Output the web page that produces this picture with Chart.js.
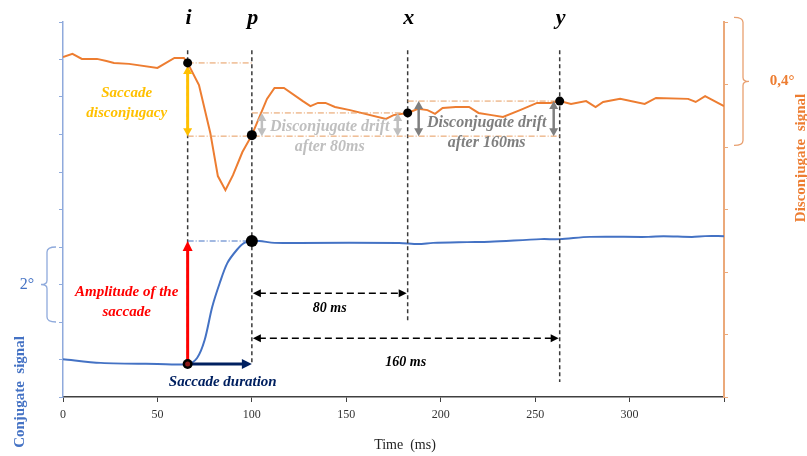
<!DOCTYPE html>
<html>
<head>
<meta charset="utf-8">
<script src="https://cdn.jsdelivr.net/npm/chart.js@4.4.1/dist/chart.umd.min.js"></script>
<style>
  html, body { margin: 0; padding: 0; background: #fff; }
  #wrap { width: 807px; height: 456px; }
</style>
</head>
<body>
<div id="wrap"><canvas id="graph" width="807" height="456"></canvas></div>
<script>
// disconjugate signal (right axis, degrees)
const orangeTime = [0, 5, 10, 18, 23, 27, 35, 50, 59, 64, 66, 72, 78, 82, 86, 90, 95, 100, 108, 112, 117, 127, 131, 135, 139, 144, 152, 171, 175, 182.5, 188, 193, 197, 201, 208, 215, 220, 227, 233, 242, 251, 258, 263, 269, 277, 282, 286, 295, 308, 314, 331, 335, 340, 350]
const orangeValues = [1.088, 1.098, 1.082, 1.082, 1.075, 1.069, 1.066, 1.053, 1.085, 1.085, 1.069, 0.998, 0.845, 0.707, 0.662, 0.710, 0.784, 0.838, 0.954, 0.989, 0.989, 0.947, 0.931, 0.941, 0.941, 0.928, 0.918, 0.890, 0.902, 0.909, 0.922, 0.918, 0.906, 0.925, 0.928, 0.928, 0.909, 0.902, 0.896, 0.918, 0.941, 0.941, 0.947, 0.938, 0.947, 0.928, 0.944, 0.954, 0.938, 0.957, 0.954, 0.944, 0.963, 0.931]

// conjugate signal (left axis, degrees)
const blueTime = [0, 20, 50, 66, 71, 75, 79, 83, 87, 92, 96, 100, 104, 112, 125, 178, 188, 196, 214, 226, 253, 263, 279, 310, 318, 333, 340, 350]
const blueValues = [1.01, 0.91, 0.88, 0.88, 1.04, 1.52, 2.40, 3.04, 3.57, 3.92, 4.11, 4.16, 4.16, 4.11, 4.11, 4.11, 4.08, 4.11, 4.13, 4.14, 4.21, 4.21, 4.27, 4.27, 4.29, 4.27, 4.29, 4.29]

// event markers i, p, x, y
const eventNames = ['i', 'p', 'x', 'y']
const eventTimes = [66, 100, 182.5, 263]
const eventDisconj = [1.069, 0.838, 0.909, 0.947]
const conjStart = 0.88
const conjPeak = 4.16

const xTicks = [0, 50, 100, 150, 200, 250, 300]

const serif = "'Liberation Serif', 'DejaVu Serif', serif"

function line(ctx, x1, y1, x2, y2, color, width, dash) {
    ctx.save()
    ctx.strokeStyle = color
    ctx.lineWidth = width
    ctx.setLineDash(dash || [])
    ctx.beginPath()
    ctx.moveTo(x1, y1)
    ctx.lineTo(x2, y2)
    ctx.stroke()
    ctx.restore()
}

function head(ctx, x, y, angle, color, len, half) {
    ctx.save()
    ctx.fillStyle = color
    ctx.translate(x, y)
    ctx.rotate(angle)
    ctx.beginPath()
    ctx.moveTo(0, 0)
    ctx.lineTo(-len, -half)
    ctx.lineTo(-len, half)
    ctx.closePath()
    ctx.fill()
    ctx.restore()
}

function vDouble(ctx, x, y1, y2, color, width) {
    line(ctx, x, y1 + 6, x, y2 - 6, color, width)
    head(ctx, x, y1, -Math.PI / 2, color, 8, 4.5)
    head(ctx, x, y2, Math.PI / 2, color, 8, 4.5)
}

function dot(ctx, x, y, r, color) {
    ctx.save()
    ctx.fillStyle = color
    ctx.beginPath()
    ctx.arc(x, y, r, 0, Math.PI * 2)
    ctx.fill()
    ctx.restore()
}

function text(ctx, str, x, y, font, color, rot) {
    ctx.save()
    ctx.font = font
    ctx.fillStyle = color
    ctx.textAlign = 'center'
    ctx.textBaseline = 'middle'
    ctx.translate(x, y)
    if (rot) ctx.rotate(rot)
    ctx.fillText(str, 0, 0)
    ctx.restore()
}

// curly brace, vertical, from y1 to y2, tips toward "dir" side
function brace(ctx, x, y1, y2, dir, color) {
    const ym = (y1 + y2) / 2
    ctx.save()
    ctx.strokeStyle = color
    ctx.lineWidth = 1.3
    ctx.beginPath()
    ctx.moveTo(x + dir * 9, y1)
    ctx.quadraticCurveTo(x, y1, x, y1 + 5)
    ctx.lineTo(x, ym - 4)
    ctx.quadraticCurveTo(x, ym, x - dir * 6, ym)
    ctx.quadraticCurveTo(x, ym, x, ym + 4)
    ctx.lineTo(x, y2 - 5)
    ctx.quadraticCurveTo(x, y2, x + dir * 9, y2)
    ctx.stroke()
    ctx.restore()
}

const annotations = {
    id: 'annotations',
    afterDatasetsDraw(chart) {
        const ctx = chart.ctx
        const sx = chart.scales.x
        const yl = chart.scales.y
        const yr = chart.scales.y1
        const ex = eventTimes.map(t => sx.getPixelForValue(t))
        const ey = eventDisconj.map(v => yr.getPixelForValue(v))
        const [xI, xP, xX, xY] = ex
        const topY = yl.getPixelForValue(9.25)
        const bottoms = [conjStart, conjStart, 2.05, 0.4].map(v => yl.getPixelForValue(v))
        const yStart = yl.getPixelForValue(conjStart)
        const yPeak = yl.getPixelForValue(conjPeak)

        // vertical guides and letters
        ex.forEach((x, k) => {
            line(ctx, x, topY, x, bottoms[k], '#3a3a3a', 1.5, [4, 3])
            text(ctx, eventNames[k], x + 1, 18, 'italic bold 22px ' + serif, '#000')
        })

        // dash-dot reference levels (disconjugate)
        const dd = [6, 2, 1, 2]
        const oc = '#E69A5C'
        line(ctx, xI, ey[0], xP, ey[0], oc, 1, dd)
        line(ctx, xI, ey[1] + 1, xY, ey[1] + 1, oc, 1, dd)
        line(ctx, xP, ey[2], xX, ey[2], oc, 1, dd)
        line(ctx, xX, ey[3], xY, ey[3], oc, 1, dd)

        // saccade disconjugacy
        vDouble(ctx, xI, ey[0] + 3, ey[1] + 1, '#FFC000', 3)
        text(ctx, 'Saccade', xI - 61, 93, 'italic bold 15px ' + serif, '#FFC000')
        text(ctx, 'disconjugacy', xI - 61, 113, 'italic bold 15px ' + serif, '#FFC000')

        // drift after 80 ms
        vDouble(ctx, xP + 10, ey[2], ey[1] + 1, '#BFBFBF', 2.5)
        vDouble(ctx, xX - 10, ey[2], ey[1] + 1, '#BFBFBF', 2.5)
        text(ctx, 'Disconjugate drift', (xP + xX) / 2, 127, 'italic bold 16px ' + serif, '#BFBFBF')
        text(ctx, 'after 80ms', (xP + xX) / 2, 147, 'italic bold 16px ' + serif, '#BFBFBF')

        // drift after 160 ms
        vDouble(ctx, xX + 11, ey[3], ey[1] + 1, '#7F7F7F', 2.5)
        vDouble(ctx, xY - 6, ey[3], ey[1] + 1, '#7F7F7F', 2.5)
        text(ctx, 'Disconjugate drift', (xX + xY) / 2 + 3, 123, 'italic bold 16px ' + serif, '#7F7F7F')
        text(ctx, 'after 160ms', (xX + xY) / 2 + 3, 143, 'italic bold 16px ' + serif, '#7F7F7F')

        // amplitude of the saccade
        line(ctx, xI, yPeak, xP, yPeak, '#4472C4', 1, dd)
        line(ctx, xI, yStart, xI, yPeak + 8, '#FF0000', 3)
        head(ctx, xI, yPeak, -Math.PI / 2, '#FF0000', 10, 5)
        text(ctx, 'Amplitude of the', xI - 61, 292, 'italic bold 15px ' + serif, '#FF0000')
        text(ctx, 'saccade', xI - 61, 312, 'italic bold 15px ' + serif, '#FF0000')

        // saccade duration
        line(ctx, xI, yStart, xP - 8, yStart, '#002060', 3)
        head(ctx, xP, yStart, 0, '#002060', 10, 5)
        text(ctx, 'Saccade duration', (xI + xP) / 2 + 3, 382, 'italic bold 15px ' + serif, '#002060')

        // 80 ms / 160 ms spans
        const y80 = yl.getPixelForValue(2.77)
        const y160 = yl.getPixelForValue(1.57)
        line(ctx, xP + 7, y80, xX - 7, y80, '#000', 1.5, [7, 4])
        head(ctx, xP + 1, y80, Math.PI, '#000', 8, 4)
        head(ctx, xX - 1, y80, 0, '#000', 8, 4)
        text(ctx, '80 ms', (xP + xX) / 2, 308, 'italic bold 14px ' + serif, '#000')
        line(ctx, xP + 7, y160, xY - 7, y160, '#000', 1.5, [7, 4])
        head(ctx, xP + 1, y160, Math.PI, '#000', 8, 4)
        head(ctx, xY - 1, y160, 0, '#000', 8, 4)
        text(ctx, '160 ms', (xP + xY) / 2, 362, 'italic bold 14px ' + serif, '#000')

        // event dots
        dot(ctx, xI, ey[0], 4.5, '#000')
        dot(ctx, xP, ey[1], 5, '#000')
        dot(ctx, xX, ey[2], 4.5, '#000')
        dot(ctx, xY, ey[3], 4.5, '#000')
        dot(ctx, xP, yPeak, 6, '#000')
        dot(ctx, xI, yStart, 5, '#000')
        dot(ctx, xI, yStart, 2.5, '#8B1A1A')

        // scale braces
        brace(ctx, 47, yl.getPixelForValue(4), yl.getPixelForValue(2), 1, '#8FAADC')
        text(ctx, '2°', 27, yl.getPixelForValue(3), '16px ' + serif, '#4472C4')
        brace(ctx, 743, yr.getPixelForValue(1.215), yr.getPixelForValue(0.805), -1, '#E8A070')
        text(ctx, '0,4°', 782, yr.getPixelForValue(1.01), 'bold 15px ' + serif, '#ED7D31')

        // axis titles
        text(ctx, 'Time  (ms)', 405, 445, '14px ' + serif, '#222')
        text(ctx, 'Conjugate  signal', 20, 392, 'bold 15px ' + serif, '#4472C4', -Math.PI / 2)
        text(ctx, 'Disconjugate  signal', 801, 158, 'bold 15px ' + serif, '#ED7D31', -Math.PI / 2)
    }
}

var ctx = document.getElementById('graph').getContext('2d');
var chart = new Chart(ctx, {
    type: 'line',
    data: {
        datasets: [{
            label: 'Disconjugate signal',
            data: orangeTime.map((t, k) => ({ x: t, y: orangeValues[k] })),
            yAxisID: 'y1',
            borderColor: '#ED7D31',
            borderWidth: 2,
            pointRadius: 0,
            tension: 0
        }, {
            label: 'Conjugate signal',
            data: blueTime.map((t, k) => ({ x: t, y: blueValues[k] })),
            yAxisID: 'y',
            borderColor: '#4472C4',
            borderWidth: 2,
            pointRadius: 0,
            tension: 0.3
        }]
    },
    options: {
        responsive: false,
        animation: false,
        devicePixelRatio: 1,
        layout: { padding: { top: 22, left: 0, right: 0, bottom: 0 } },
        plugins: { legend: { display: false }, tooltip: { enabled: false } },
        scales: {
            x: {
                type: 'linear', min: 0, max: 350,
                afterBuildTicks: s => { s.ticks = xTicks.concat([350]).map(v => ({ value: v })) },
                ticks: {
                    callback: v => (xTicks.includes(v) ? v : ''),
                    font: { family: serif, size: 12 }, color: '#333', padding: 6, maxRotation: 0
                },
                grid: { drawOnChartArea: false, tickLength: 5, color: '#404040' },
                border: { color: '#404040', width: 1.5 },
                afterFit: s => { s.height = 59 }
            },
            y: {
                position: 'left', min: 0, max: 10,
                ticks: { stepSize: 1, display: false },
                grid: { drawOnChartArea: false, tickLength: 4, color: '#8FAADC' },
                border: { color: '#8FAADC', width: 1.5 },
                afterFit: s => { s.width = 63 }
            },
            y1: {
                position: 'right', min: 0, max: 1.2,
                ticks: { stepSize: 0.2, display: false },
                grid: { drawOnChartArea: false, tickLength: 4, color: '#EBA97A' },
                border: { color: '#EBA97A', width: 2 },
                afterFit: s => { s.width = 83 }
            }
        }
    },
    plugins: [annotations]
});
</script>
</body>
</html>
